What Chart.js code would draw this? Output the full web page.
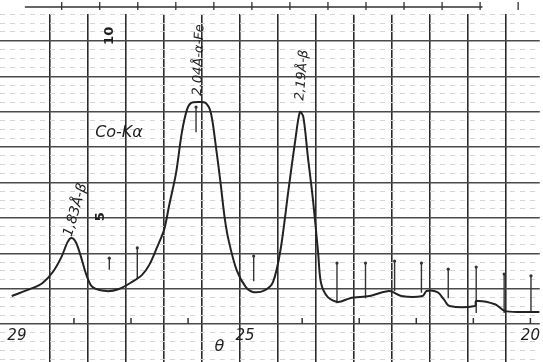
<!DOCTYPE html>
<html lang="ru">
<head>
<meta charset="utf-8">
<title>Дифрактограмма Co-Kα</title>
<script src="https://cdn.jsdelivr.net/npm/chart.js@4/dist/chart.umd.min.js"></script>
<style>
  html, body { margin: 0; padding: 0; background: #fff; }
  #wrap { width: 543px; height: 362px; position: relative; }
</style>
</head>
<body>
<div id="wrap"><canvas id="xrdChart"></canvas></div>
<script>
// Угол θ (град.), ось идёт справа налево
const theta = [
    29.09, 28.72, 28.55, 28.37, 28.22, 28.11, 28.04, 27.96, 27.87, 27.78,
    27.68, 27.43, 27.21, 26.98, 26.81, 26.68, 26.54, 26.42, 26.33, 26.21,
    26.11, 26.02, 25.95, 25.81, 25.69, 25.60, 25.52, 25.43, 25.36, 25.29,
    25.15, 24.99, 24.85, 24.65, 24.51, 24.38, 24.24, 24.12, 24.04, 23.98,
    23.90, 23.81, 23.72, 23.67, 23.55, 23.37, 23.16, 22.82, 22.47, 22.26,
    21.89, 21.82, 21.63, 21.51, 21.42, 20.97, 20.95, 20.62, 20.45, 20.17,
    19.84
];
// Интенсивность (деления бумаги)
const intensity = [
    2.79, 3.02, 3.16, 3.47, 3.89, 4.32, 4.43, 4.29, 3.86, 3.38,
    3.05, 2.93, 2.99, 3.19, 3.38, 3.67, 4.18, 4.66, 5.36, 6.27,
    7.40, 8.05, 8.24, 8.27, 8.24, 7.96, 7.11, 5.98, 5.02, 4.37,
    3.53, 3.05, 2.90, 2.96, 3.19, 4.09, 5.79, 7.20, 7.99, 7.85,
    6.72, 5.50, 4.01, 3.16, 2.76, 2.62, 2.73, 2.79, 2.93, 2.79,
    2.79, 2.93, 2.90, 2.68, 2.51, 2.51, 2.65, 2.56, 2.37, 2.34,
    2.34
];

// Отметки пера (короткие вертикальные штрихи)
const markTheta  = [27.38, 26.89, 25.86, 24.85, 23.39, 22.89, 22.38, 21.91, 21.44, 20.95, 20.46, 19.99];
const markTop    = [3.86, 4.15, 8.13, 3.92, 3.72, 3.72, 3.78, 3.72, 3.55, 3.61, 3.41, 3.36];
const markBottom = [3.53, 3.27, 7.42, 3.21, 2.59, 2.73, 2.93, 2.88, 2.73, 2.31, 2.31, 2.31];

// Метки градусов на нижней линии и подписи оси
const degreeTicks = [28, 27, 26, 24, 23, 22, 21, 20];
const axisLabels = [29, 25, 20];

// Сетка бумаги
const gridTheta = Array.from({ length: 13 }, (_, i) => 28.425 - i * 2 / 3);
const majorRows = [2, 3, 4, 5, 6, 7, 8, 9, 10];
const minorRows = [];
for (let v = 1; v <= 10.75; v += 0.25) {
    if (!majorRows.includes(v)) minorRows.push(v);
}

const X_MIN = 19.836, X_MAX = 29.296;
const Y_MIN = 0.927, Y_MAX = 10.757;

// Линейка сверху и рукописные подписи
const paperPlugin = {
    id: 'paper',
    afterDraw(chart, args, opts) {
        const ctx = chart.ctx;
        const xs = chart.scales.x, ys = chart.scales.y;
        ctx.save();
        ctx.strokeStyle = '#333';
        ctx.lineWidth = 1.3;
        ctx.beginPath();
        ctx.moveTo(xs.getPixelForValue(28.86), 7);
        ctx.lineTo(xs.getPixelForValue(20.84), 7);
        gridTheta.forEach(g => {
            const px = xs.getPixelForValue(g) + 12;
            ctx.moveTo(px, 2);
            ctx.lineTo(px, 10);
        });
        ctx.stroke();

        ctx.fillStyle = '#1e1e1e';
        ctx.textAlign = 'center';
        ctx.textBaseline = 'middle';
        opts.notes.forEach(n => {
            ctx.save();
            ctx.translate(xs.getPixelForValue(n.x), ys.getPixelForValue(n.y));
            ctx.rotate(n.rot * Math.PI / 180);
            ctx.font = n.font;
            ctx.fillText(n.text, 0, 0);
            ctx.restore();
        });
        ctx.restore();
    }
};

const markData = [];
markTheta.forEach((t, i) => {
    markData.push({ x: t, y: markTop[i] }, { x: t, y: markBottom[i] }, { x: t, y: null });
});

new Chart(document.getElementById('xrdChart'), {
    type: 'line',
    data: {
        datasets: [{
            label: 'Co-Kα',
            data: theta.map((t, i) => ({ x: t, y: intensity[i] })),
            borderColor: '#222',
            borderWidth: 2,
            pointRadius: 0,
            tension: 0.3,
            fill: false
        }, {
            label: 'отметки',
            data: markData,
            borderColor: '#333',
            borderWidth: 1.4,
            pointRadius: ctx => (ctx.dataIndex % 3 === 0 ? 1.6 : 0),
            pointBackgroundColor: '#333',
            pointBorderWidth: 0,
            spanGaps: false
        }, {
            label: 'градусы',
            data: degreeTicks.map(t => ({ x: t, y: 2.085 })),
            showLine: false,
            pointStyle: 'line',
            rotation: 90,
            pointRadius: 3,
            borderColor: '#333',
            borderWidth: 1.5
        }]
    },
    options: {
        responsive: true,
        maintainAspectRatio: false,
        devicePixelRatio: 1,
        animation: false,
        layout: { autoPadding: false, padding: { top: 14, left: 0, right: 0, bottom: 0 } },
        plugins: {
            legend: { display: false },
            tooltip: { enabled: false },
            paper: {
                notes: [
                    { text: '1,83Å-β', x: 27.97, y: 5.22, rot: -74, font: 'italic 14px "DejaVu Sans"' },
                    { text: '2,04Å-α-Fe', x: 25.81, y: 9.46, rot: -88, font: 'italic 13px "DejaVu Sans"' },
                    { text: '2,19Å-β', x: 24.00, y: 9.03, rot: -85, font: 'italic 13px "DejaVu Sans"' },
                    { text: 'Co-Kα', x: 27.21, y: 7.40, rot: 0, font: 'italic 16px "DejaVu Sans"' },
                    { text: '10', x: 27.38, y: 10.14, rot: -90, font: 'bold 13px "DejaVu Sans"' },
                    { text: '5', x: 27.54, y: 5.03, rot: -90, font: 'bold 13px "DejaVu Sans"' },
                    { text: 'θ', x: 25.45, y: 1.35, rot: 0, font: 'italic 16px "DejaVu Sans"' }
                ]
            }
        },
        scales: {
            x: {
                type: 'linear',
                reverse: true,
                min: X_MIN,
                max: X_MAX,
                afterBuildTicks: s => { s.ticks = gridTheta.map(v => ({ value: v })); },
                grid: { color: '#2b2b2b', lineWidth: 1.6, drawTicks: false },
                border: { display: false },
                ticks: { display: false }
            },
            xLab: {
                type: 'linear',
                axis: 'x',
                reverse: true,
                min: X_MIN,
                max: X_MAX,
                position: { y: 2 },
                afterBuildTicks: s => { s.ticks = axisLabels.map(v => ({ value: v })); },
                grid: { display: false, drawTicks: false },
                border: { display: false },
                ticks: {
                    color: '#1e1e1e',
                    padding: 3,
                    maxRotation: 0,
                    autoSkip: false,
                    font: { family: 'DejaVu Sans', size: 15, style: 'italic' }
                }
            },
            y: {
                min: Y_MIN,
                max: Y_MAX,
                afterBuildTicks: s => { s.ticks = majorRows.map(v => ({ value: v })); },
                grid: { color: '#4a4a4a', lineWidth: 1.4, drawTicks: false },
                border: { display: false },
                ticks: { display: false }
            },
            yMinor: {
                axis: 'y',
                position: 'left',
                min: Y_MIN,
                max: Y_MAX,
                afterBuildTicks: s => { s.ticks = minorRows.map(v => ({ value: v })); },
                grid: { color: '#d6d6d6', lineWidth: 1, drawTicks: false },
                border: { display: false, dash: [5, 5] },
                ticks: { display: false }
            }
        }
    },
    plugins: [paperPlugin]
});
</script>
</body>
</html>
